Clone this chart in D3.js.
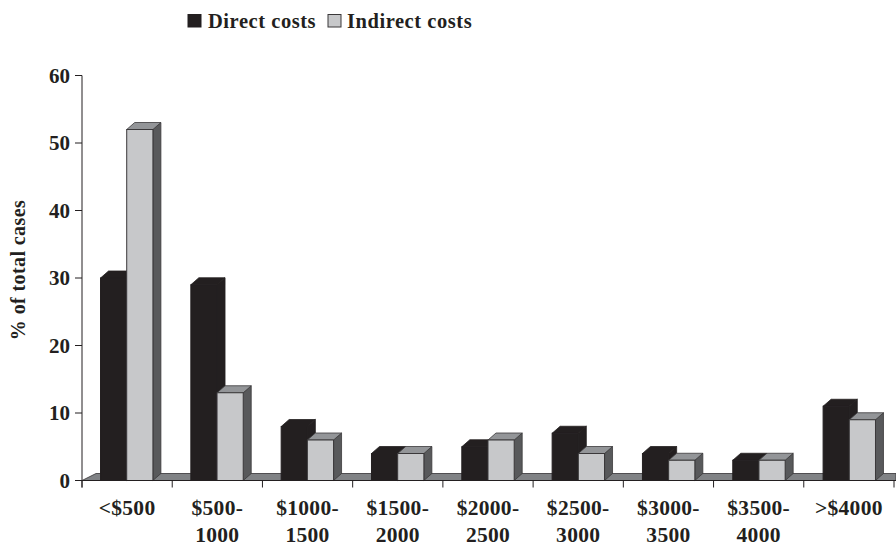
<!DOCTYPE html>
<html><head><meta charset="utf-8">
<script src="https://cdnjs.cloudflare.com/ajax/libs/d3/7.8.5/d3.min.js"></script>
<style>html,body{margin:0;padding:0;background:#fff}svg{display:block}
text{font-family:"Liberation Serif",serif;font-weight:bold;fill:#231f20}</style></head>
<body><svg id="c" width="896" height="544"></svg>
<script>
const categories=[["<$500"],["$500-","1000"],["$1000-","1500"],["$1500-","2000"],["$2000-","2500"],["$2500-","3000"],["$3000-","3500"],["$3500-","4000"],[">$4000"]];
const seriesNames=["Direct costs","Indirect costs"];
const directCosts=[30,29,8,4,5,7,4,3,11];
const indirectCosts=[52,13,6,4,6,4,3,3,9];
const yTicks=[0,10,20,30,40,50,60];
const yTitle="% of total cases";

const svg=d3.select("#c");
const dx=8,dy=7;
const x0=d3.scaleBand().domain(d3.range(categories.length)).range([82,894]).paddingInner(0.42).paddingOuter(0.205);
const step=(894-82)/categories.length;
const x1=d3.scaleBand().domain(seriesNames).range([0,x0.bandwidth()]);
const y=d3.scaleLinear().domain([0,60]).range([480.5,75.5]);
const front={[seriesNames[0]]:"#231f20",[seriesNames[1]]:"#c7c8ca"};
const top_={[seriesNames[0]]:"#231f20",[seriesNames[1]]:"#939598"};
const side={[seriesNames[0]]:"#231f20",[seriesNames[1]]:"#58595b"};
const stroke={[seriesNames[0]]:"#231f20",[seriesNames[1]]:"#3a383a"};

const y0=y(0);
svg.append("path").attr("d",`M82,${y0}L${82+dx+6},${y0-dy}L896,${y0-dy}L896,${y0}Z`)
  .attr("fill","#808285").attr("stroke","#333133").attr("stroke-width",0.8);

categories.forEach((c,i)=>{
  [directCosts,indirectCosts].forEach((vals,k)=>{
    const s=seriesNames[k],v=vals[i];
    const xl=x0(i)+x1(s),w=x1.bandwidth(),t=y(v);
    const g=svg.append("g");
    g.append("path").attr("d",`M${xl+w},${y0}L${xl+w+dx},${y0-dy}L${xl+w+dx},${t-dy}L${xl+w},${t}Z`)
      .attr("fill",side[s]).attr("stroke",stroke[s]).attr("stroke-width",0.8);
    g.append("path").attr("d",`M${xl},${t}L${xl+dx},${t-dy}L${xl+w+dx},${t-dy}L${xl+w},${t}Z`)
      .attr("fill",top_[s]).attr("stroke",stroke[s]).attr("stroke-width",0.8);
    g.append("rect").attr("x",xl).attr("y",t).attr("width",w).attr("height",y0-t)
      .attr("fill",front[s]).attr("stroke",stroke[s]).attr("stroke-width",1);
  });
});

const ax=svg.append("g").attr("fill","none").attr("stroke","#231f20").attr("stroke-width",1);
ax.append("line").attr("x1",82).attr("x2",82).attr("y1",y(60)).attr("y2",y0+7);
ax.append("line").attr("x1",82).attr("x2",896).attr("y1",y0).attr("y2",y0);
yTicks.forEach(t=>ax.append("line").attr("x1",75).attr("x2",82).attr("y1",y(t)).attr("y2",y(t)));
d3.range(categories.length+1).forEach(i=>{
  const xt=82+i*step;
  ax.append("line").attr("x1",xt).attr("x2",xt).attr("y1",y0).attr("y2",y0+7);
});
yTicks.forEach(t=>svg.append("text").attr("x",70).attr("y",y(t)+7).attr("text-anchor","end")
  .attr("font-size",21).text(t));
categories.forEach((c,i)=>{
  c.forEach((line,j)=>svg.append("text").attr("x",82+(i+0.5)*step).attr("y",515+j*27)
    .attr("text-anchor","middle").attr("font-size",21.5).attr("letter-spacing",0.3).text(line));
});
svg.append("text").attr("transform","translate(25,270) rotate(-90)").attr("text-anchor","middle")
  .attr("font-size",20).attr("letter-spacing",0.4).text(yTitle);

const lx=[188,328],tx=[208,347];
seriesNames.forEach((s,k)=>{
  svg.append("rect").attr("x",lx[k]).attr("y",14.5).attr("width",13).attr("height",12.5)
    .attr("fill",front[s]).attr("stroke",stroke[s]).attr("stroke-width",1);
  svg.append("text").attr("x",tx[k]).attr("y",28).attr("font-size",20.5).attr("letter-spacing",0.55).text(s);
});
</script></body></html>
